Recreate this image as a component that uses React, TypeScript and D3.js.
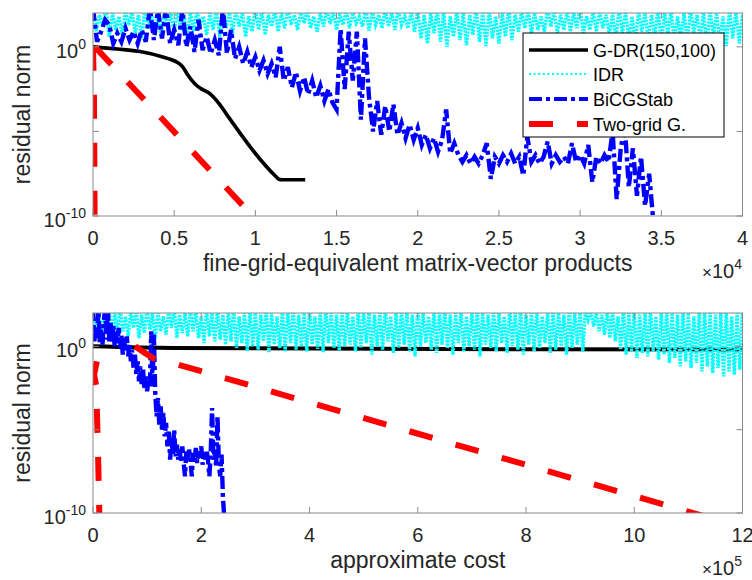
import React, { useEffect, useRef } from "react";
import * as d3 from "d3";

// ---------- axis ticks ----------
const topXTicks = [0, 0.5, 1, 1.5, 2, 2.5, 3, 3.5, 4]; // x 10^4
const bottomXTicks = [0, 2, 4, 6, 8, 10, 12]; // x 10^5
const yTickExps = [-10, -5, 0];
const yLabelExps = [-10, 0];
const legendNames = ["G-DR(150,100)", "IDR", "BiCGStab", "Two-grid G."];

// ---------- top panel (fine-grid-equivalent matvecs) ----------
const gdrTopX = [0, 1500, 2900, 4300, 4800, 5200, 5500, 5800, 6100, 6400, 6700, 7100, 7400, 7800, 8200, 11250, 11450, 11650, 13070];
const gdrTopLog = [0, -0.13, -0.28, -0.6, -0.75, -0.92, -1.15, -1.6, -2.0, -2.3, -2.5, -2.7, -2.95, -3.4, -3.95, -7.65, -7.83, -7.86, -7.86];

const idrTopStep = 200;
const idrTopPeaks = [
  2.2, 1.9, 2.3, 2.0, 1.8, 2.2, 2.1, 1.9, 2.3, 2.0,
  1.8, 2.2, 2.0, 2.3, 1.9, 2.1, 2.2, 1.8, 2.0, 2.3,
  1.9, 2.1, 2.2, 2.0, 1.8, 2.3, 2.1, 1.9, 2.2, 2.0,
  2.3, 1.9, 2.1, 2.2, 1.8, 2.0, 2.3, 2.1, 1.9, 2.2,
  2.0, 1.8, 2.3, 2.1, 1.9, 2.2, 2.0, 2.3, 1.8, 2.1,
  2.2, 1.9, 2.0, 2.3, 2.1, 1.8, 2.2, 2.0, 1.9, 2.3,
  2.1, 2.2, 1.8, 2.0, 2.3, 1.9, 2.1, 2.2, 2.0, 1.8,
  2.3, 2.1, 1.9, 2.2, 2.0, 2.3, 1.8, 2.1, 2.2, 1.9,
  2.0, 2.3, 2.1, 1.8, 2.2, 2.0, 1.9, 2.3, 2.1, 2.2,
  1.8, 2.0, 2.3, 1.9, 2.1, 2.2, 2.0, 1.8, 2.3, 2.1,
  1.9, 2.2, 2.0,
];
const idrTopTroughs = [
  0.9, 1.2, 0.6, 1.0, 0.7, 1.3, 0.8, 0.5, 1.1, 0.9, 0.6, 1.2, 0.8, 1.0, 0.5,
  0.9, 1.3, 0.7, 1.0, 0.6, 1.1, 0.8, 1.2, 0.6, 0.9, 1.0, 0.7, 1.2, 0.9, 1.1,
  1.3, 1.0, 1.4, 1.1, 0.9, 1.2, 1.35, 1.0, 1.3, 1.1, 1.4, 1.2, 0.95, 1.3, 1.1,
  1.2, 1.0, 1.3, 1.1, 0.9,
  0.5, 0.2, 0.8, 0.3, 0.0, 0.6, 0.4, 0.1, 0.7, 0.3, 0.05, 0.5, 0.2, 0.6, 0.4,
  0.9, 1.1, 0.8, 1.0, 0.9, 1.2, 0.8, 1.0, 0.9, 1.1, 0.8, 1.0, 0.9, 1.1,
  0.7, 0.3, 0.8, 0.5, 0.2, 0.9, 0.4, 0.6, 0.1, 0.7, 0.3, 0.5, 0.2, 0.8, 0.4,
  0.1, 0.6, 0.3, 0.05, 0.5, 0.2, 0.4, 0.1, 0.3,
];

const bicgTopStep = 250;
const bicgTopLog = [
  2.3, 0.3, 0.9, 1.6, 1.3, 0.2, 0.8, 0.3, 1.1, 0.4, 0.9, 0.2, 1.0, 0.3,
  2.3, 0.4, 2.2, 0.5, 2.3,
  0.2, 1.0, 0.1, 2.2, 0.0, 1.2,
  -0.3, 1.6, -0.2, 0.6, -0.4, 0.4,
  -0.5, 2.3, -0.4, 1.0,
  -0.7, 0.0, -1.0, -0.3, -1.2, -0.6,
  -1.4, -0.8, -1.6, -1.0, -1.8, 0.0, -2.0, -1.2,
  -2.4, -1.5, -2.6, -1.8, -2.8, -2.0, -3.0, -2.3, -3.2, -2.5, -3.3,
  -3.7, 1.05, -2.5, 0.9, -2.0, 0.9, -4.3, 0.5, -3.0,
  -5.0, -3.2, -5.2, -3.5,
  -5.0, -3.4, -5.2, -4.5, -5.4, -4.6, -5.5, -4.8,
  -5.8, -5.2, -6.0, -5.4, -6.2, -5.5, -3.7, -6.3, -5.7, -6.4,
  -6.8, -6.4, -6.9, -6.5, -6.9, -6.4, -5.7, -7.8, -6.5, -6.9,
  -6.4, -6.8, -6.3, -6.9, -6.5, -7.6, -5.3, -6.8, -6.4, -6.9,
  -6.5, -5.6, -6.9, -6.4, -6.8, -6.5, -6.9, -5.7, -6.8, -6.4,
  -6.9, -5.8, -8.0, -6.5, -6.9, -6.4, -6.8,
  -5.0, -9.0, -6.0, -4.7, -8.3, -6.0, -8.8, -6.5, -9.4, -7.5, -10.2,
];

const twoGridCoarseTopX = [0, 60, 90, 100];
const twoGridCoarseTopLog = [0, -3, -8, -11];
const twoGridFineTopX = [120, 9880];
const twoGridFineTopLog = [0, -10.05];

// ---------- bottom panel (approximate cost) ----------
const gdrBotX = [0, 150000, 1250000];
const gdrBotLog = [0, -0.1, -0.2];

const idrBotStep = 5000;
const idrBotPeaks = [
  2.1, 2.3, 1.9, 2.2, 2.0, 2.3, 1.8, 2.1, 2.2, 1.9,
  2.3, 2.0, 2.1, 1.8, 2.2, 2.3, 1.9, 2.0, 2.2, 2.1,
  1.8, 2.3, 2.0, 2.2, 1.9, 2.1, 2.3, 1.8, 2.0, 2.2,
  2.1, 1.9, 2.3, 2.0, 1.8, 2.2, 2.1, 2.3, 1.9, 2.0,
  2.2, 1.8, 2.1, 2.3, 2.0, 1.9, 2.2, 2.1, 1.8, 2.3,
  2.0, 2.2, 1.9, 2.1, 2.3, 1.8, 2.0, 2.2, 2.1, 1.9,
  2.3, 2.0, 1.8, 2.2, 2.1, 2.3, 1.9, 2.0, 2.2, 1.8,
  2.1, 2.3, 2.0, 1.9, 2.2, 2.1, 1.8, 2.3, 2.0, 2.2,
  1.9, 2.1, 2.3, 1.8, 2.0, 2.2, 2.1, 1.9, 2.3, 2.0,
  2.2, 2.3, 2.1, 2.0, 1.9, 2.2, 2.1, 1.8, 2.3, 2.0,
  2.2, 1.9, 2.1, 2.3, 1.8, 2.0, 2.2, 2.1, 1.9, 2.3,
  2.0, 1.8, 2.2, 2.1, 2.3, 1.9, 2.0, 2.2, 1.8, 2.1,
  2.3, 2.0,
];
const idrBotTroughs = [
  0.8, 0.5, 1.0, 0.6, 0.9,
  0.9, 0.6, 1.1, 0.5, 0.8, 1.0, 0.4, 0.9, 0.7, 1.1, 0.5, 0.8, 0.6, 0.9,
  0.5, 0.2, 0.6, 0.3, 0.4, 0.1, 0.3,
  -0.1, 0.2, -0.3, 0.0, -0.2, 0.3, -0.35, 0.1, -0.1, -0.3, 0.2, -0.2, 0.0, -0.3,
  0.1, -0.15, -0.35, 0.2, -0.1, -0.25, 0.0,
  0.1, -0.3, -0.1, 0.2, -0.5, 0.0, -0.2, 0.3, -0.4, -0.1, 0.1, -0.3, -0.6, 0.0,
  0.2, -0.2, -0.4, 0.1, -0.1, -0.5, 0.2, -0.3, 0.0, -0.2, -0.6, 0.1, -0.1, -0.3,
  0.2, -0.4, 0.0, -0.2, -0.5, 0.1, -0.3, -0.1, 0.2, -0.4, -0.2, 0.0, -0.5, -0.1,
  0.1, -0.3,
  1.6, 1.2, 0.9, 0.7, 0.5, 0.3,
  -0.2, -0.5, -0.3, -0.7, -0.4, -0.6, -0.3,
  -0.8, -0.5, -1.0, -0.7, -1.2, -0.9, -1.3, -1.0, -1.5, -1.2, -1.6, -1.3, -1.8,
  -1.5, -1.7, -1.4, -1.8, -1.6,
];

const bicgBotStep = 2500;
const bicgBotLog = [
  2.3, 0.3, 1.2, 0.5, 2.2, 0.2, 1.0, 0.1, 1.5,
  2.3, 0.4, 2.3, 0.3, 1.4, 0.2,
  1.3, 0.0, 0.9, 0.1, 1.1, -0.1,
  0.7, -0.5, 0.5, -0.3, 0.6, -0.6, 0.2,
  -0.9, -0.2, -1.3, -0.5, -1.7, -0.9, -2.1, -1.2,
  -2.3, -1.4, -2.6, -1.8, -2.7, -2.0, -2.5,
  0.9, -2.4, 0.7, -2.8,
  -4.2, -3.1, -4.7, -3.6, -5.0, -4.0, -5.4,
  -4.6, -6.0, -5.0, -6.8, -5.5, -6.5, -5.0,
  -6.6, -5.9, -6.8, -6.2, -6.9, -6.0, -7.0, -7.8, -6.3, -6.9,
  -6.2, -6.8, -7.8, -6.4, -6.9, -6.1, -7.0, -6.3, -6.7, -6.0,
  -7.1, -6.4, -6.8, -6.2, -6.9, -7.8, -6.4, -3.7, -6.8, -6.2,
  -7.2, -4.2, -7.0,
  -7.8, -6.5, -9.0, -10.3,
];

const twoGridCoarseBotX = [7000, 2000, 6000, 9000, 12000];
const twoGridCoarseBotLog = [-0.9, -1.7, -2.4, -6, -10.5];
const twoGridFineBotX = [78000, 95000, 112000, 130000, 1130000];
const twoGridFineBotLog = [0, -0.38, -0.72, -0.84, -10.2];

// ---------- helpers ----------
type P = [number, number];
const zip = (xs: number[], ls: number[]): P[] => xs.map((x, i) => [x, ls[i]] as P);
const stepped = (ls: number[], step: number): P[] => ls.map((l, i) => [i * step, l] as P);
const zig = (peaks: number[], troughs: number[], step: number): P[] =>
  peaks.flatMap((p, i) => [[2 * i * step, p] as P, [(2 * i + 1) * step, troughs[i]] as P]);

const FONT = "'Liberation Sans', Arial, Helvetica, sans-serif";
const TXT = "#262626";
const AX = "#8a8a8a";

type St = { color: string; width: number; dash: string; smooth?: boolean };
const styles: Record<string, St> = {
  gdr: { color: "#000000", width: 3.6, dash: "", smooth: true },
  idr: { color: "#00ffff", width: 3.4, dash: "2.2 1.1" },
  bicg: { color: "#0000ff", width: 4.4, dash: "13 4 4 4" },
  tg: { color: "#ff0000", width: 6, dash: "24 24" },
};
const legendStyles: St[] = [
  styles.gdr,
  { color: "#00ffff", width: 1.8, dash: "2 2.6" },
  { color: "#0000ff", width: 4, dash: "13 4 4 4" },
  styles.tg,
];

export default function App() {
  const ref = useRef<SVGSVGElement>(null);
  useEffect(() => {
    const svg = d3.select(ref.current!);
    svg.selectAll("*").remove();

    const panels = [
      {
        id: "top",
        left: 93, right: 742.5, top: 13, bottom: 216,
        xMax: 40000, xUnit: 10000, ticks: topXTicks, exp: "4",
        xlabel: "fine-grid-equivalent matrix-vector products",
        series: [
          { s: styles.gdr, pts: [zip(gdrTopX, gdrTopLog)] },
          { s: styles.idr, pts: [zig(idrTopPeaks, idrTopTroughs, idrTopStep)] },
          { s: styles.bicg, pts: [stepped(bicgTopLog, bicgTopStep)] },
          { s: styles.tg, pts: [zip(twoGridCoarseTopX, twoGridCoarseTopLog), zip(twoGridFineTopX, twoGridFineTopLog)] },
        ],
        legend: true,
      },
      {
        id: "bot",
        left: 93, right: 742.5, top: 313, bottom: 513,
        xMax: 1200000, xUnit: 100000, ticks: bottomXTicks, exp: "5",
        xlabel: "approximate cost",
        series: [
          { s: { ...styles.gdr, width: 4 }, pts: [zip(gdrBotX, gdrBotLog)] },
          { s: styles.idr, pts: [zig(idrBotPeaks, idrBotTroughs, idrBotStep)] },
          { s: styles.bicg, pts: [stepped(bicgBotLog, bicgBotStep)] },
          { s: styles.tg, pts: [zip(twoGridCoarseBotX, twoGridCoarseBotLog), zip(twoGridFineBotX, twoGridFineBotLog)] },
        ],
        legend: false,
      },
    ];

    const defs = svg.append("defs");

    panels.forEach((p) => {
      const x = d3.scaleLinear().domain([0, p.xMax]).range([p.left, p.right]);
      const y = d3.scaleLog().domain([1e-10, 1e2]).range([p.bottom, p.top]);
      const line = d3
        .line<P>()
        .x((d) => x(d[0]))
        .y((d) => y(Math.pow(10, d[1])));
      const smoothLine = d3
        .line<P>()
        .curve(d3.curveMonotoneX)
        .x((d) => x(d[0]))
        .y((d) => y(Math.pow(10, d[1])));

      defs
        .append("clipPath")
        .attr("id", "clip-" + p.id)
        .append("rect")
        .attr("x", p.left)
        .attr("y", p.top)
        .attr("width", p.right - p.left)
        .attr("height", p.bottom - p.top);

      const g = svg.append("g");
      g.append("rect")
        .attr("x", p.left).attr("y", p.top)
        .attr("width", p.right - p.left).attr("height", p.bottom - p.top)
        .attr("fill", "#ffffff");

      const plot = g.append("g").attr("clip-path", `url(#clip-${p.id})`);
      p.series.forEach((ser) => {
        ser.pts.forEach((pts) => {
          plot
            .append("path")
            .attr("d", (ser.s.smooth ? smoothLine : line)(pts))
            .attr("fill", "none")
            .attr("stroke", ser.s.color)
            .attr("stroke-width", ser.s.width)
            .attr("stroke-dasharray", ser.s.dash || null)
            .attr("stroke-linejoin", "miter")
            .attr("stroke-linecap", "butt");
        });
      });

      // box
      g.append("rect")
        .attr("x", p.left).attr("y", p.top)
        .attr("width", p.right - p.left).attr("height", p.bottom - p.top)
        .attr("fill", "none").attr("stroke", AX).attr("stroke-width", 1);

      // x ticks
      p.ticks.forEach((t) => {
        const xv = x(t * p.xUnit);
        g.append("line").attr("x1", xv).attr("x2", xv).attr("y1", p.bottom).attr("y2", p.bottom - 6)
          .attr("stroke", AX);
        g.append("line").attr("x1", xv).attr("x2", xv).attr("y1", p.top).attr("y2", p.top + 6)
          .attr("stroke", AX);
        g.append("text")
          .attr("x", xv).attr("y", p.bottom + 29)
          .attr("text-anchor", "middle")
          .attr("font-family", FONT).attr("font-size", 20).attr("fill", TXT)
          .text(String(t));
      });

      // y ticks
      yTickExps.forEach((e) => {
        const yv = y(Math.pow(10, e));
        g.append("line").attr("x1", p.left).attr("x2", p.left + 6).attr("y1", yv).attr("y2", yv).attr("stroke", AX);
        g.append("line").attr("x1", p.right).attr("x2", p.right - 6).attr("y1", yv).attr("y2", yv).attr("stroke", AX);
      });
      yLabelExps.forEach((e) => {
        const yv = y(Math.pow(10, e));
        const t = g.append("text")
          .attr("x", 86).attr("y", yv + 11)
          .attr("text-anchor", "end")
          .attr("font-family", FONT).attr("font-size", 20).attr("fill", TXT);
        t.append("tspan").text("10");
        t.append("tspan").attr("dy", -9).attr("font-size", 14).text(String(e));
      });

      // exponent label
      const ex = g.append("text")
        .attr("x", 742).attr("y", p.bottom + 62)
        .attr("text-anchor", "end")
        .attr("font-family", FONT).attr("font-size", 20).attr("fill", TXT);
      ex.append("tspan").attr("font-size", 17).text("\u00d7");
      ex.append("tspan").text("10");
      ex.append("tspan").attr("dy", -9).attr("font-size", 14).text(p.exp);

      // axis labels
      g.append("text")
        .attr("x", (p.left + p.right) / 2).attr("y", p.bottom + 55)
        .attr("text-anchor", "middle")
        .attr("font-family", FONT).attr("font-size", 23).attr("fill", TXT)
        .text(p.xlabel);
      const cy = (p.top + p.bottom) / 2;
      g.append("text")
        .attr("transform", `translate(30,${cy}) rotate(-90)`)
        .attr("text-anchor", "middle")
        .attr("font-family", FONT).attr("font-size", 23).attr("fill", TXT)
        .text("residual norm");

      if (p.legend) {
        const lg = g.append("g");
        const lx = 523, ly = 33, lw = 201, lh = 104;
        lg.append("rect").attr("x", lx).attr("y", ly).attr("width", lw).attr("height", lh)
          .attr("fill", "#ffffff").attr("stroke", "#000000").attr("stroke-width", 1);
        const rowY = [50, 74, 99, 124];
        legendStyles.forEach((s, i) => {
          lg.append("line")
            .attr("x1", 529).attr("x2", 588)
            .attr("y1", rowY[i]).attr("y2", rowY[i])
            .attr("stroke", s.color).attr("stroke-width", s.width)
            .attr("stroke-dasharray", s.dash || null);
          lg.append("text")
            .attr("x", 593).attr("y", rowY[i] + 6.5)
            .attr("font-family", FONT).attr("font-size", 18).attr("fill", "#000000")
            .text(legendNames[i]);
        });
      }
    });
  }, []);

  return (
    <svg
      ref={ref}
      width={752}
      height={580}
      style={{ position: "absolute", left: 0, top: 0, display: "block", background: "#ffffff" }}
    />
  );
}
